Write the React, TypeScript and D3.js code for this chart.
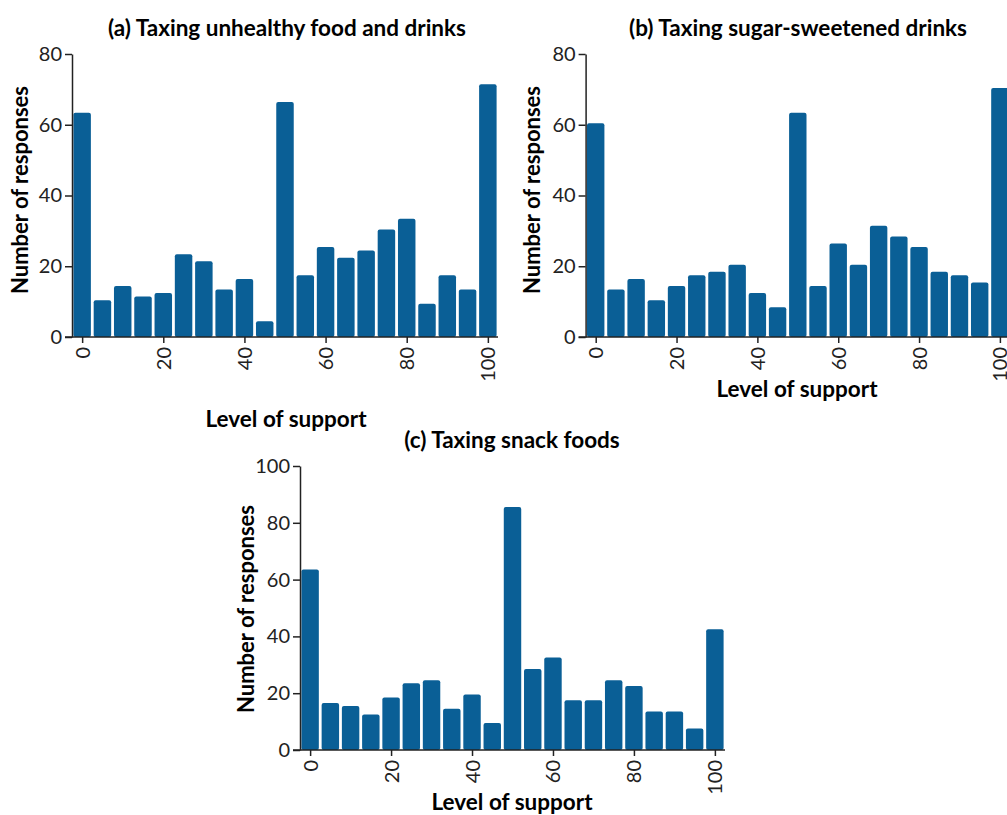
import React, { useEffect, useRef } from "react";
import * as d3 from "d3";

const levels = [0, 5, 10, 15, 20, 25, 30, 35, 40, 45, 50, 55, 60, 65, 70, 75, 80, 85, 90, 95, 100];
const valuesA = [63, 10, 14, 11, 12, 23, 21, 13, 16, 4, 66, 17, 25, 22, 24, 30, 33, 9, 17, 13, 71];
const valuesB = [60, 13, 16, 10, 14, 17, 18, 20, 12, 8, 63, 14, 26, 20, 31, 28, 25, 18, 17, 15, 70];
const valuesC = [63, 16, 15, 12, 18, 23, 24, 14, 19, 9, 85, 28, 32, 17, 17, 24, 22, 13, 13, 7, 42];
const xTicks = [0, 20, 40, 60, 80, 100];
const yTicksAB = [0, 20, 40, 60, 80];
const yTicksC = [0, 20, 40, 60, 80, 100];
const titles = [
  "(a) Taxing unhealthy food and drinks",
  "(b) Taxing sugar-sweetened drinks",
  "(c) Taxing snack foods",
];
const xLabel = "Level of support";
const yLabel = "Number of responses";

const FONT = "Lato, 'Open Sans', sans-serif";
const BAR = "#0a5f96";

type Panel = {
  values: number[];
  yMax: number;
  yTicks: number[];
  title: string;
  x0: number; x1: number;
  y0: number; y1: number;
  titleX: number; titleY: number;
  xLabX: number; xLabY: number;
  yLabX: number; yLabY: number;
};

const panels: Panel[] = [
  { values: valuesA, yMax: 80, yTicks: yTicksAB, title: titles[0], x0: 72, x1: 498, y0: 337, y1: 54,
    titleX: 287, titleY: 36, xLabX: 286, xLabY: 427, yLabX: 28, yLabY: 190 },
  { values: valuesB, yMax: 80, yTicks: yTicksAB, title: titles[1], x0: 585.6, x1: 1010, y0: 337, y1: 54,
    titleX: 798, titleY: 36, xLabX: 797, xLabY: 397, yLabX: 540, yLabY: 190 },
  { values: valuesC, yMax: 100, yTicks: yTicksC, title: titles[2], x0: 300, x1: 725, y0: 750, y1: 466,
    titleX: 512, titleY: 448, xLabX: 512, xLabY: 810, yLabX: 254, yLabY: 609 },
];

export default function App() {
  const ref = useRef<SVGSVGElement>(null);
  useEffect(() => {
    const svg = d3.select(ref.current);
    svg.selectAll("*").remove();
    panels.forEach((p) => {
      const x = d3.scaleLinear().domain([-2.5, 102.5]).range([p.x0, p.x1]);
      const y = d3.scaleLinear().domain([0, p.yMax]).range([p.y0, p.y1]);
      const g = svg.append("g");
      const bw = x(5) - x(0);
      const pad = 1.4;
      g.selectAll("rect.bar")
        .data(levels.map((l, i) => ({ l, v: p.values[i] })))
        .join("rect")
        .attr("class", "bar")
        .attr("x", (d) => x(d.l) - bw / 2 + pad)
        .attr("width", bw - 2 * pad)
        .attr("y", (d) => y(d.v) - 1.5)
        .attr("height", (d) => p.y0 - y(d.v) + 1.5)
        .attr("rx", 2)
        .attr("fill", BAR);

      const yAxis = d3.axisLeft(y).tickValues(p.yTicks).tickSize(7).tickPadding(3).tickSizeOuter(0);
      const ya = g.append("g").attr("transform", `translate(${p.x0},0)`).call(yAxis);
      ya.select(".domain").attr("stroke", "#222").attr("stroke-width", 1.5);
      ya.selectAll(".tick line").attr("stroke", "#222").attr("stroke-width", 1.5);
      ya.selectAll(".tick text").attr("font-family", FONT).attr("font-size", 20).attr("fill", "#222");

      const xAxis = d3.axisBottom(x).tickValues(xTicks).tickSize(6).tickSizeOuter(0);
      const xa = g.append("g").attr("transform", `translate(0,${p.y0})`).call(xAxis);
      xa.select(".domain").attr("stroke", "#222").attr("stroke-width", 1.5)
        .attr("d", `M${p.x0 - 7},0H${p.x1}`);
      xa.selectAll(".tick line").attr("stroke", "#222").attr("stroke-width", 1.5);
      xa.selectAll(".tick text")
        .attr("font-family", FONT).attr("font-size", 20).attr("fill", "#222")
        .attr("transform", "rotate(-90)")
        .attr("x", -10).attr("y", 0).attr("dy", "0.35em")
        .attr("text-anchor", "end");

      g.append("text").attr("x", p.titleX).attr("y", p.titleY)
        .attr("text-anchor", "middle").attr("font-family", FONT).attr("font-weight", "bold")
        .attr("font-size", 22.5).attr("fill", "#000").text(p.title);
      g.append("text").attr("x", p.xLabX).attr("y", p.xLabY)
        .attr("text-anchor", "middle").attr("font-family", FONT).attr("font-weight", "bold")
        .attr("font-size", 22.5).attr("fill", "#000").text(xLabel);
      g.append("text")
        .attr("transform", `translate(${p.yLabX},${p.yLabY}) rotate(-90)`)
        .attr("text-anchor", "middle").attr("font-family", FONT).attr("font-weight", "bold")
        .attr("font-size", 22).attr("fill", "#000").text(yLabel);
    });
  }, []);
  return (
    <svg ref={ref} width={1007} height={815}
      style={{ position: "absolute", left: 0, top: 0, background: "#fff", overflow: "hidden" }} />
  );
}
